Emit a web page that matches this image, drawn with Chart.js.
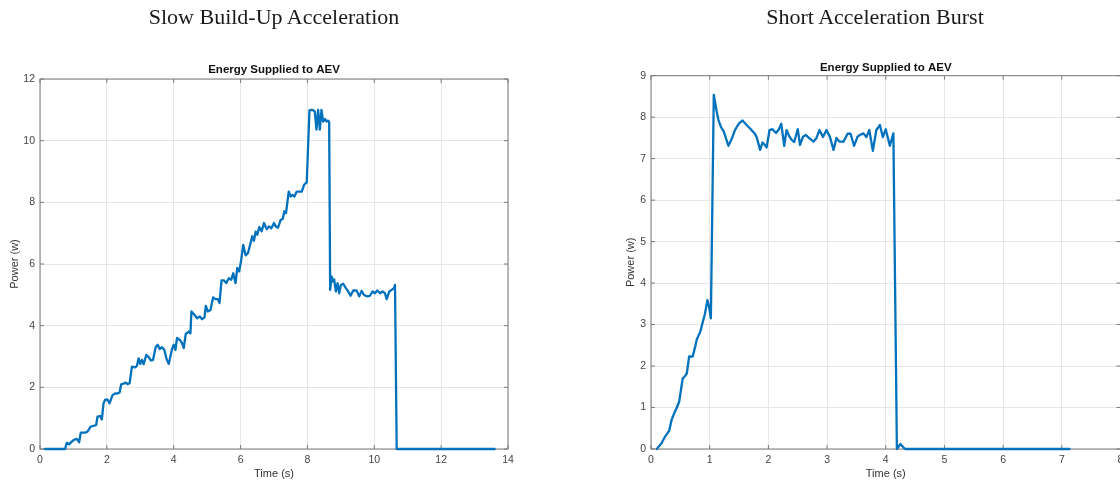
<!DOCTYPE html>
<html>
<head>
<meta charset="utf-8">
<script src="https://cdn.jsdelivr.net/npm/chart.js@4.4.0/dist/chart.umd.min.js"></script>
<style>
  html, body { margin: 0; padding: 0; background: #fff; width: 1120px; height: 482px; overflow: hidden; }
  canvas { position: absolute; top: 0; }
  .panel_title {
    position: absolute; top: 6px; width: 500px; text-align: center;
    font-family: "Liberation Serif", "DejaVu Serif", serif; font-size: 22px; line-height: 22px; color: #1a1a1a;
  }
</style>
</head>
<body>
<canvas id="slow_chart" width="560" height="482" style="left:0"></canvas>
<canvas id="burst_chart" width="600" height="482" style="left:560px"></canvas>
<div class="panel_title" style="left:24px">Slow Build-Up Acceleration</div>
<div class="panel_title" style="left:625px">Short Acceleration Burst</div>
<script>
// Left panel: slow build-up, time (s) and power (w)
const slow_time = [
  0.15, 0.75, 0.8, 0.87, 0.95, 1.02, 1.1, 1.17, 1.22, 1.35, 1.42, 1.52, 1.62, 1.68, 1.72, 1.8, 1.85, 1.9, 1.95, 2.02,
  2.08, 2.17, 2.25, 2.32, 2.38, 2.43, 2.52, 2.58, 2.62, 2.68, 2.75, 2.85, 2.9, 2.95, 3.0, 3.05, 3.1, 3.18, 3.25, 3.32,
  3.38, 3.46, 3.52, 3.58, 3.65, 3.72, 3.78, 3.85, 3.95, 4.0, 4.05, 4.1, 4.18, 4.25, 4.3, 4.36, 4.45, 4.5, 4.53, 4.62,
  4.7, 4.78, 4.85, 4.92, 4.96, 5.02, 5.1, 5.18, 5.25, 5.32, 5.37, 5.43, 5.5, 5.57, 5.65, 5.72, 5.78, 5.85, 5.9, 5.96,
  6.02, 6.08, 6.15, 6.22, 6.28, 6.35, 6.4, 6.45, 6.5, 6.56, 6.63, 6.7, 6.78, 6.85, 6.92, 7.0, 7.05, 7.12, 7.2, 7.26,
  7.31, 7.36, 7.44, 7.5, 7.55, 7.61, 7.68, 7.76, 7.83, 7.9, 7.98, 8.06, 8.13, 8.18, 8.22, 8.27, 8.32, 8.37, 8.42, 8.47,
  8.53, 8.57, 8.62, 8.65, 8.68, 8.72, 8.77, 8.8, 8.85, 8.9, 8.95, 9.0, 9.07, 9.15, 9.22, 9.29, 9.37, 9.47, 9.55, 9.62,
  9.69, 9.77, 9.87, 9.95, 10.02, 10.09, 10.17, 10.25, 10.32, 10.37, 10.45, 10.52, 10.59, 10.62, 10.67, 13.6];
const slow_power = [
  0, 0, 0.2, 0.15, 0.24, 0.3, 0.33, 0.22, 0.53, 0.53, 0.56, 0.73, 0.76, 0.78, 1.05, 1.07, 0.96, 1.48, 1.6, 1.6,
  1.48, 1.75, 1.8, 1.8, 1.83, 2.1, 2.13, 2.15, 2.1, 2.13, 2.67, 2.65, 2.7, 2.94, 2.76, 2.89, 2.75, 3.05, 2.98, 2.87,
  2.89, 3.3, 3.38, 3.24, 3.3, 3.21, 2.94, 2.76, 3.24, 3.38, 3.21, 3.6, 3.54, 3.43, 3.27, 3.73, 3.81, 3.75, 4.46, 4.35,
  4.24, 4.3, 4.21, 4.27, 4.64, 4.46, 4.51, 4.92, 4.86, 4.86, 4.73, 5.47, 5.47, 5.38, 5.54, 5.49, 5.7, 5.38, 5.87, 5.76,
  6.14, 6.62, 6.28, 6.35, 6.6, 6.9, 6.75, 7.05, 6.95, 7.2, 7.06, 7.33, 7.13, 7.22, 7.16, 7.33, 7.22, 7.18, 7.43, 7.46,
  7.71, 7.65, 8.35, 8.19, 8.24, 8.19, 8.35, 8.35, 8.35, 8.57, 8.65, 10.98, 11.0, 10.98, 10.95, 10.36, 11.0, 10.36, 11.0, 10.62,
  10.7, 10.62, 10.65, 10.6, 5.16, 5.6, 5.43, 5.5, 5.11, 5.38, 5.05, 5.32, 5.36, 5.22, 5.11, 4.97, 5.14, 5.14, 4.95, 5.13,
  5.0, 4.95, 4.97, 5.11, 5.05, 5.14, 5.05, 5.11, 5.05, 4.86, 5.11, 5.16, 5.22, 5.32, 0, 0];

// Right panel: short burst
const burst_time = [
  0.1, 0.14, 0.18, 0.24, 0.27, 0.31, 0.35, 0.39, 0.44, 0.48, 0.54, 0.58, 0.61, 0.65, 0.71, 0.75, 0.78, 0.84, 0.88, 0.92,
  0.96, 0.99, 1.02, 1.07, 1.12, 1.15, 1.19, 1.24, 1.32, 1.38, 1.43, 1.5, 1.56, 1.63, 1.7, 1.77, 1.8, 1.86, 1.9, 1.94,
  1.97, 2.02, 2.07, 2.13, 2.18, 2.22, 2.27, 2.31, 2.36, 2.4, 2.44, 2.5, 2.54, 2.59, 2.64, 2.69, 2.77, 2.82, 2.87, 2.93,
  2.99, 3.05, 3.11, 3.16, 3.21, 3.28, 3.35, 3.4, 3.46, 3.52, 3.56, 3.62, 3.67, 3.72, 3.78, 3.84, 3.9, 3.95, 4.0, 4.07,
  4.13, 4.19, 4.25, 4.3, 4.33, 7.13];
const burst_power = [
  0, 0.07, 0.14, 0.3, 0.36, 0.44, 0.7, 0.84, 1.0, 1.14, 1.7, 1.76, 1.82, 2.23, 2.23, 2.45, 2.64, 2.83, 3.05, 3.26,
  3.59, 3.43, 3.15, 8.54, 8.13, 7.93, 7.77, 7.65, 7.31, 7.49, 7.69, 7.85, 7.92, 7.81, 7.71, 7.6, 7.52, 7.21, 7.39, 7.33,
  7.27, 7.69, 7.71, 7.62, 7.71, 7.84, 7.31, 7.69, 7.53, 7.45, 7.4, 7.71, 7.33, 7.53, 7.57, 7.5, 7.41, 7.5, 7.69, 7.52,
  7.69, 7.52, 7.21, 7.5, 7.41, 7.41, 7.6, 7.6, 7.31, 7.53, 7.57, 7.61, 7.52, 7.69, 7.19, 7.69, 7.81, 7.52, 7.71, 7.31,
  7.61, 0, 0.12, 0.04, 0, 0];

const slow_x_ticks = [0, 2, 4, 6, 8, 10, 12, 14];
const slow_y_ticks = [0, 2, 4, 6, 8, 10, 12];
const burst_x_ticks = [0, 1, 2, 3, 4, 5, 6, 7, 8];
const burst_y_ticks = [0, 1, 2, 3, 4, 5, 6, 7, 8, 9];

const plot_title = "Energy Supplied to AEV";
const x_label = "Time (s)";
const y_label = "Power (w)";

const line_color = "#0072BD";
const sans = "'Liberation Sans', Arial, sans-serif";

// MATLAB style box round the axes, with small inward ticks on all four sides
const axes_box = {
  id: 'axes_box',
  beforeDatasetsDraw: function (chart) {
    var ctx = chart.ctx;
    var a = chart.chartArea;
    var sx = chart.scales.x;
    var sy = chart.scales.y;
    ctx.save();
    ctx.strokeStyle = "#7a7a7a";
    ctx.lineWidth = 1;
    ctx.strokeRect(a.left, a.top, a.right - a.left, a.bottom - a.top);
    ctx.beginPath();
    sx.ticks.forEach(function (t) {
      var px = sx.getPixelForValue(t.value);
      ctx.moveTo(px, a.bottom); ctx.lineTo(px, a.bottom - 4);
      ctx.moveTo(px, a.top); ctx.lineTo(px, a.top + 4);
    });
    sy.ticks.forEach(function (t) {
      var py = sy.getPixelForValue(t.value);
      ctx.moveTo(a.left, py); ctx.lineTo(a.left + 4, py);
      ctx.moveTo(a.right, py); ctx.lineTo(a.right - 4, py);
    });
    ctx.stroke();
    ctx.restore();
  }
};

function fixed_ticks(values) {
  return function (scale) {
    scale.ticks = values.map(function (v) { return { value: v }; });
  };
}

function make_chart(canvas_id, times, powers, x_ticks, y_ticks, geo) {
  var points = times.map(function (t, i) { return { x: t, y: powers[i] }; });
  return new Chart(document.getElementById(canvas_id), {
    type: 'line',
    data: {
      datasets: [{
        data: points,
        borderColor: line_color,
        borderWidth: 2.3,
        borderJoinStyle: 'round',
        borderCapStyle: 'round',
        pointRadius: 0,
        tension: 0,
        clip: false
      }]
    },
    options: {
      responsive: false,
      animation: false,
      devicePixelRatio: 1,
      events: [],
      layout: { padding: { left: geo.padLeft, right: geo.padRight, top: 0, bottom: 0 } },
      plugins: {
        legend: { display: false },
        tooltip: { enabled: false },
        title: {
          display: true,
          text: plot_title,
          fullSize: false,
          color: "#111",
          font: { family: sans, size: 11.5, weight: 'bold', lineHeight: 1.2 },
          padding: { top: geo.titleTop, bottom: geo.titleBottom }
        }
      },
      scales: {
        x: {
          type: 'linear',
          min: x_ticks[0],
          max: x_ticks[x_ticks.length - 1],
          afterBuildTicks: fixed_ticks(x_ticks),
          afterFit: function (scale) { scale.height = 33; },
          grid: { color: "#e6e6e6", drawTicks: false },
          border: { display: false },
          ticks: { color: "#444", font: { family: sans, size: 10.5 }, padding: 5, maxRotation: 0, autoSkip: false },
          title: { display: true, text: x_label, color: "#333", font: { family: sans, size: 11 }, padding: { top: 0, bottom: 1 } }
        },
        y: {
          type: 'linear',
          min: y_ticks[0],
          max: y_ticks[y_ticks.length - 1],
          afterBuildTicks: fixed_ticks(y_ticks),
          afterFit: function (scale) { scale.width = geo.yWidth; },
          grid: { color: "#e6e6e6", drawTicks: false },
          border: { display: false },
          ticks: { color: "#444", font: { family: sans, size: 10.5 }, padding: 5, autoSkip: false },
          title: { display: true, text: y_label, color: "#333", font: { family: sans, size: 11 }, padding: { top: geo.yTitlePad, bottom: 0 } }
        }
      }
    },
    plugins: [axes_box]
  });
}

make_chart('slow_chart', slow_time, slow_power, slow_x_ticks, slow_y_ticks,
  { padLeft: 0, padRight: 52, yWidth: 40, yTitlePad: 8.4, titleTop: 63, titleBottom: 2.2 });
make_chart('burst_chart', burst_time, burst_power, burst_x_ticks, burst_y_ticks,
  { padLeft: 63, padRight: 39.5, yWidth: 28, yTitlePad: 1, titleTop: 61, titleBottom: 0.9 });
</script>
</body>
</html>
